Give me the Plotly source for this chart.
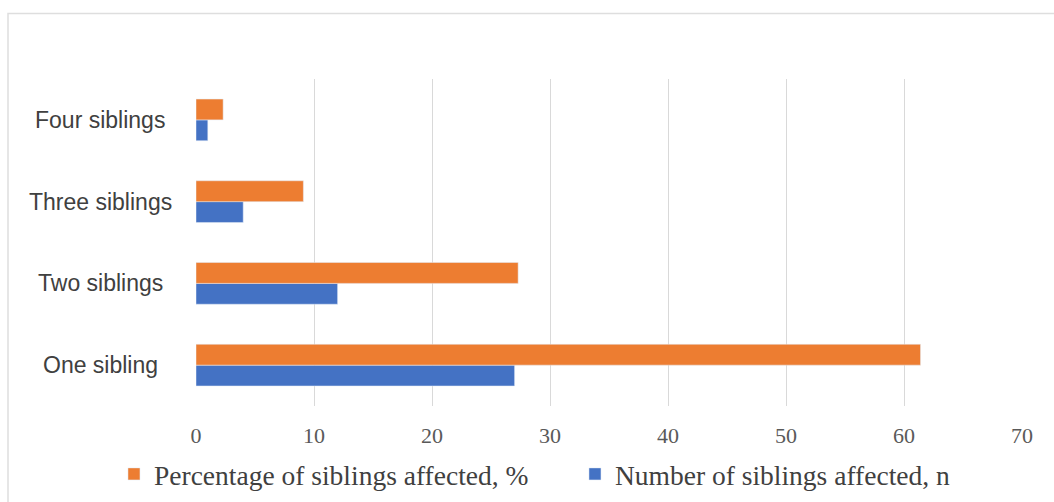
import plotly.graph_objects as go

categories = ["One sibling", "Two siblings", "Three siblings", "Four siblings"]
number_affected = [27, 12, 4, 1]
percentage_affected = [61.4, 27.3, 9.1, 2.3]
x_ticks = [0, 10, 20, 30, 40, 50, 60, 70]

SERIF = "Liberation Serif, Times New Roman, serif"
SANS = "Liberation Sans, Arial, sans-serif"

fig = go.Figure()
fig.add_trace(go.Bar(
    y=categories, x=number_affected, orientation="h",
    name="Number of siblings affected, n", marker_color="#4472C4",
))
fig.add_trace(go.Bar(
    y=categories, x=percentage_affected, orientation="h",
    name="Percentage of siblings affected, %", marker_color="#ED7D31",
))

# category labels centred in the left margin
for cat in categories:
    fig.add_annotation(
        x=-0.1162, xref="paper", y=cat, yref="y",
        text=cat, showarrow=False, xanchor="center", yanchor="middle",
        font=dict(family=SANS, size=23, color="#404040"),
    )

fig.update_layout(
    width=1054, height=502,
    margin=dict(l=196, r=32, t=79, b=96, autoexpand=False),
    paper_bgcolor="white", plot_bgcolor="white",
    barmode="group", bargap=0.49, bargroupgap=0,
    showlegend=True,
    legend=dict(
        orientation="h", traceorder="reversed",
        x=-0.0993, xanchor="left", y=-0.208, yanchor="middle",
        font=dict(family=SERIF, size=27.5, color="#404040"),
        itemwidth=30, entrywidth=416, entrywidthmode="pixels",
    ),
    xaxis=dict(
        range=[0, 70], tickvals=x_ticks, showgrid=True,
        gridcolor="#d9d9d9", gridwidth=1, zeroline=False, showline=False,
        tickfont=dict(family=SERIF, size=22, color="#595959"),
        ticks="", ticklabelstandoff=14,
    ),
    yaxis=dict(
        categoryorder="array", categoryarray=categories,
        showgrid=False, zeroline=False, showline=False, ticks="",
        showticklabels=False,
    ),
    shapes=[dict(
        type="rect", xref="paper", yref="paper",
        x0=-0.2276, x1=1.1, y0=-0.4, y1=1.2,
        line=dict(color="#dedede", width=1.5), fillcolor="rgba(0,0,0,0)", layer="below",
    )],
)

fig.write_html("out.html")
